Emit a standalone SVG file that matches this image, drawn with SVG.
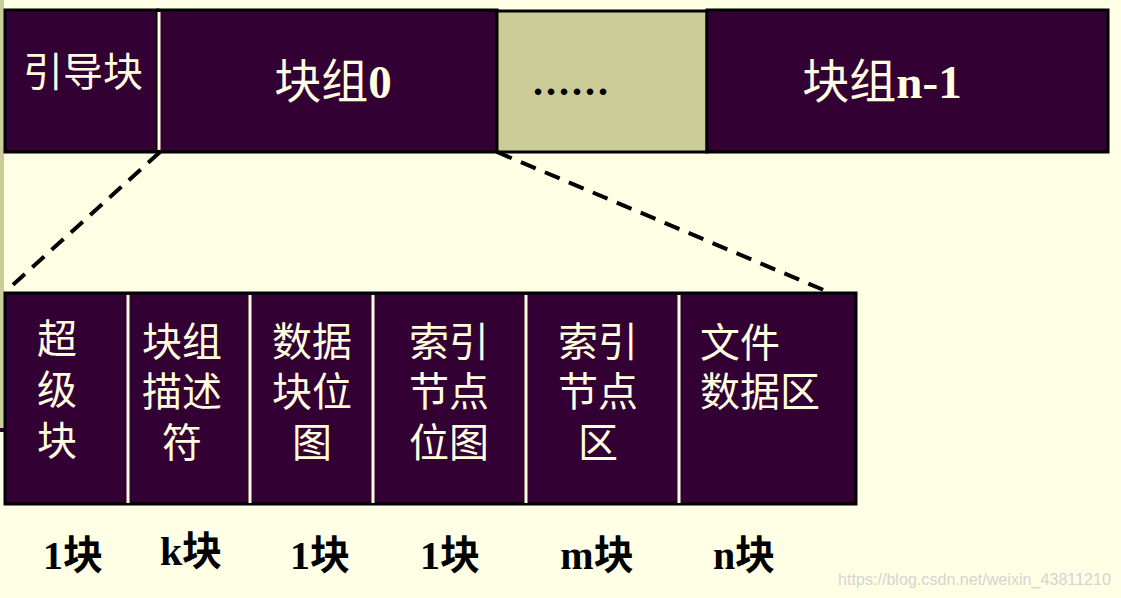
<svg xmlns="http://www.w3.org/2000/svg" width="1121" height="598" viewBox="0 0 1121 598">
<style>
.cell{fill:#330033;stroke:#000;stroke-width:3}
.khaki{fill:#cccc99;stroke:#000;stroke-width:3}
.div{stroke:#ffffdd;stroke-width:3}
.cjk{fill:#ffffe0;font-family:"Liberation Sans","Noto Sans CJK SC",sans-serif;font-size:40px}
.big{fill:#ffffe0;font-family:"Liberation Sans","Noto Sans CJK SC",sans-serif;font-size:47px}
.num{font-family:"Liberation Serif",serif;font-weight:bold}
.cnt{fill:#000;font-family:"Liberation Serif","Noto Sans CJK SC",serif;font-weight:bold;font-size:40px}
.dash{stroke:#000;stroke-width:4;stroke-dasharray:16,10;fill:none}
</style>
<rect width="1121" height="598" fill="#ffffe6"/>
<rect x="0" y="0" width="4" height="428" fill="#cccc99"/>
<rect x="0" y="428" width="5" height="4" fill="#330033"/>

<g id="top-bar">
  <g id="boot-block">
    <rect class="cell" x="5" y="10" width="153" height="142"/>
    <text class="cjk" x="83" y="86" text-anchor="middle">引导块</text>
  </g>
  <g id="group0">
    <rect class="cell" x="158" y="10" width="339" height="142"/>
    <line class="div" x1="159" y1="12" x2="159" y2="150"/>
    <text class="big" x="333" y="98" text-anchor="middle">块组<tspan class="num">0</tspan></text>
  </g>
  <g id="ellipsis">
    <rect class="khaki" x="497" y="11" width="210" height="141"/>
    <text x="572" y="95" text-anchor="middle" font-family="Liberation Serif,serif" font-weight="bold" font-size="40" letter-spacing="3" fill="#000">......</text>
  </g>
  <g id="groupn1">
    <rect class="cell" x="707" y="10" width="401" height="142"/>
    <text class="big" x="882" y="98" text-anchor="middle">块组<tspan class="num">n-1</tspan></text>
  </g>
</g>

<g id="connectors">
  <line class="dash" x1="160" y1="152" x2="6" y2="291"/>
  <line class="dash" x1="497" y1="152" x2="826" y2="291"/>
</g>

<g id="detail-bar">
  <rect class="cell" x="5" y="293" width="851" height="211"/>
  <g id="superblock">
    <text class="cjk" text-anchor="middle"><tspan x="57" y="353">超</tspan><tspan x="57" y="404">级</tspan><tspan x="57" y="455">块</tspan></text>
  </g>
  <line class="div" x1="128" y1="295" x2="128" y2="503"/>
  <g id="group-desc">
    <text class="cjk" text-anchor="middle"><tspan x="182" y="356">块组</tspan><tspan x="182" y="406">描述</tspan><tspan x="182" y="457">符</tspan></text>
  </g>
  <line class="div" x1="250" y1="295" x2="250" y2="503"/>
  <g id="block-bitmap">
    <text class="cjk" text-anchor="middle"><tspan x="312" y="356">数据</tspan><tspan x="312" y="406">块位</tspan><tspan x="312" y="457">图</tspan></text>
  </g>
  <line class="div" x1="373" y1="295" x2="373" y2="503"/>
  <g id="inode-bitmap">
    <text class="cjk" text-anchor="middle"><tspan x="449" y="356">索引</tspan><tspan x="449" y="406">节点</tspan><tspan x="449" y="457">位图</tspan></text>
  </g>
  <line class="div" x1="526" y1="295" x2="526" y2="503"/>
  <g id="inode-table">
    <text class="cjk" text-anchor="middle"><tspan x="598" y="356">索引</tspan><tspan x="598" y="406">节点</tspan><tspan x="598" y="457">区</tspan></text>
  </g>
  <line class="div" x1="679" y1="295" x2="679" y2="503"/>
  <g id="data-area">
    <text class="cjk"><tspan x="700" y="357">文件</tspan><tspan x="700" y="406">数据区</tspan></text>
  </g>
</g>

<g id="counts">
  <text class="cnt" x="73" y="569" text-anchor="middle">1块</text>
  <text class="cnt" x="191" y="565" text-anchor="middle">k块</text>
  <text class="cnt" x="320" y="569" text-anchor="middle">1块</text>
  <text class="cnt" x="450" y="569" text-anchor="middle">1块</text>
  <text class="cnt" x="597" y="569" text-anchor="middle">m块</text>
  <text class="cnt" x="744" y="569" text-anchor="middle">n块</text>
</g>
<text x="838" y="585" font-family="Liberation Sans,sans-serif" font-size="16" fill="#d4d4d0" textLength="273" lengthAdjust="spacingAndGlyphs">https://blog.csdn.net/weixin_43811210</text>
</svg>
